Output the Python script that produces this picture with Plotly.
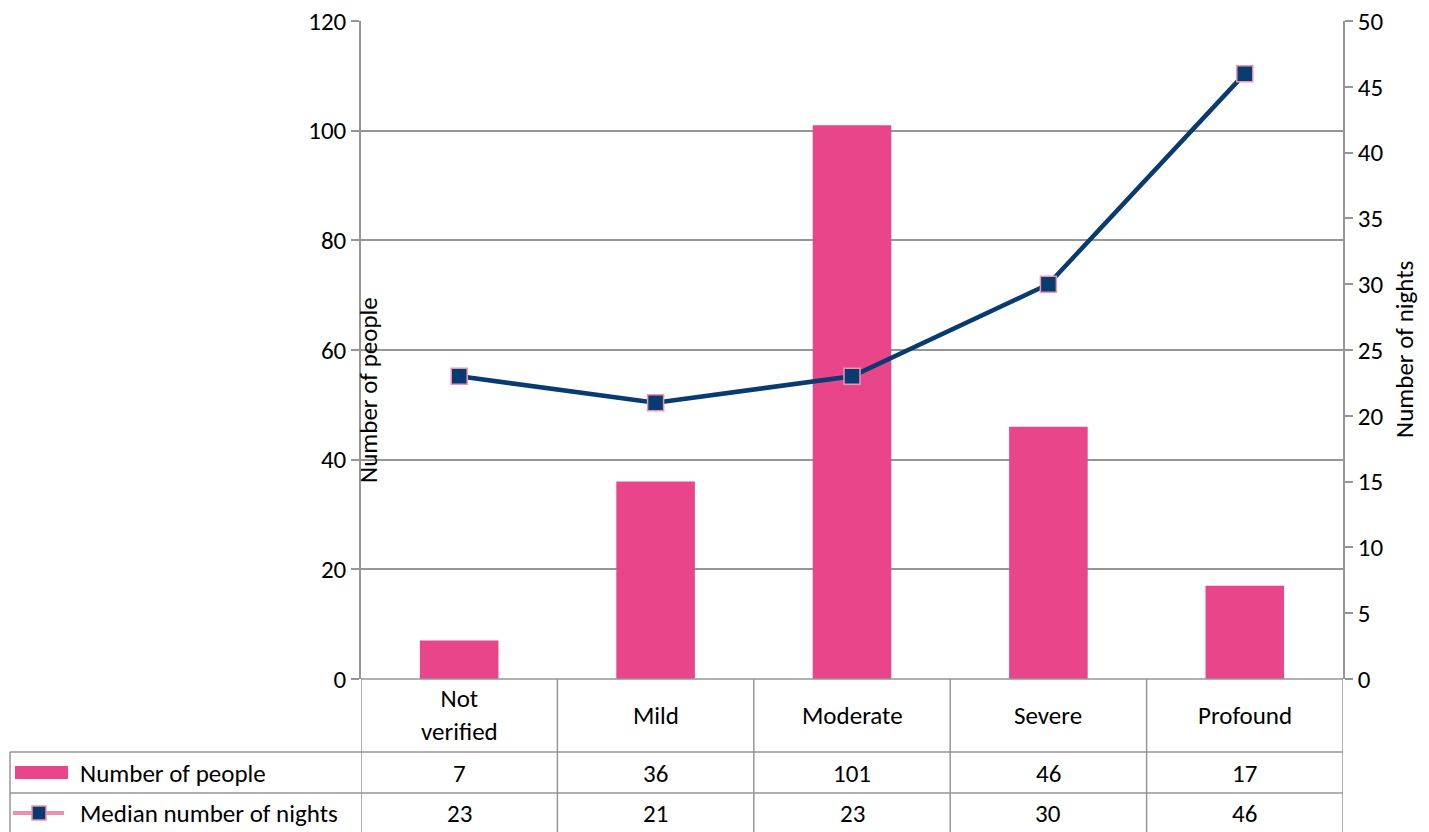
import plotly.graph_objects as go

categories = ["Not<br>verified", "Mild", "Moderate", "Severe", "Profound"]
people = [7, 36, 101, 46, 17]
nights = [23, 21, 23, 30, 46]
series_names = ["Number of people", "Median number of nights"]
left_ticks = [0, 20, 40, 60, 80, 100, 120]
right_ticks = [0, 5, 10, 15, 20, 25, 30, 35, 40, 45, 50]

W, H = 1429, 832
L, R, T, B = 361, 1343, 21, 679
FONT = "Carlito, Lato, Liberation Sans, sans-serif"
FS = 25
PINK = "#E8458A"
NAVY = "#083B6F"
GRID = "#969696"

xi = list(range(len(categories)))

fig = go.Figure()
fig.add_trace(go.Bar(x=xi, y=people, marker=dict(color=PINK, line=dict(width=0)),
                     width=0.4, name=series_names[0], showlegend=False))
fig.add_trace(go.Scatter(x=xi, y=nights, yaxis="y2", mode="lines+markers",
                         line=dict(color=NAVY, width=4.5),
                         marker=dict(symbol="square", size=16, color=NAVY,
                                     line=dict(color="#F093B5", width=1.5)),
                         name=series_names[1], showlegend=False))

fig.update_layout(
    width=W, height=H,
    margin=dict(l=L, r=W - R, t=T, b=H - B, autoexpand=False),
    paper_bgcolor="white", plot_bgcolor="white",
    font=dict(family=FONT, size=FS, color="black"),
    xaxis=dict(range=[-0.5, 4.5], showticklabels=False, showgrid=False, automargin=False,
               zeroline=False, showline=False, ticks=""),
    yaxis=dict(range=[0, 120], tickvals=left_ticks, showgrid=True, gridcolor=GRID,
               automargin=False,
               gridwidth=1.5, zeroline=False, showline=True, linecolor=GRID, linewidth=1.5,
               ticks="outside", ticklen=8, tickcolor=GRID, tickwidth=1.5,
               tickfont=dict(size=FS, family=FONT)),
    yaxis2=dict(range=[0, 50], tickvals=right_ticks, overlaying="y", side="right",
                automargin=False,
                showgrid=False, zeroline=False, showline=True, linecolor=GRID, linewidth=1.5,
                ticks="outside", ticklen=8, tickcolor=GRID, tickwidth=1.5,
                tickfont=dict(size=FS, family=FONT)),
)

pw = R - L
ph = B - T

def px_to_paper_x(px):
    return (px - L) / pw

def py_to_paper_y(py):
    return (B - py) / ph

shapes = []
line = dict(color=GRID, width=1.5)
shapes.append(dict(type="line", xref="paper", yref="paper", x0=px_to_paper_x(L), x1=px_to_paper_x(R),
                   y0=py_to_paper_y(679), y1=py_to_paper_y(679), line=line))
for yy in [752, 793]:
    shapes.append(dict(type="line", xref="paper", yref="paper", x0=px_to_paper_x(10), x1=px_to_paper_x(R),
                       y0=py_to_paper_y(yy), y1=py_to_paper_y(yy), line=line))
for k in range(len(categories) + 1):
    shapes.append(dict(type="line", xref="x", yref="paper", x0=k - 0.5, x1=k - 0.5,
                       y0=py_to_paper_y(679), y1=py_to_paper_y(840), line=line))
shapes.append(dict(type="line", xref="paper", yref="paper", x0=px_to_paper_x(10), x1=px_to_paper_x(10),
                   y0=py_to_paper_y(752), y1=py_to_paper_y(840), line=line))
# legend keys
shapes.append(dict(type="rect", xref="paper", yref="paper", x0=px_to_paper_x(15), x1=px_to_paper_x(68),
                   y0=py_to_paper_y(779), y1=py_to_paper_y(766), fillcolor=PINK, line=dict(width=0)))
shapes.append(dict(type="line", xref="paper", yref="paper", x0=px_to_paper_x(13), x1=px_to_paper_x(64),
                   y0=py_to_paper_y(813), y1=py_to_paper_y(813), line=dict(color="#EE8FB0", width=4)))
shapes.append(dict(type="rect", xref="paper", yref="paper", x0=px_to_paper_x(32), x1=px_to_paper_x(46),
                   y0=py_to_paper_y(820), y1=py_to_paper_y(806), fillcolor=NAVY,
                   line=dict(color="#EE8FB0", width=1.5)))

def ann(**kw):
    d = dict(showarrow=False, xanchor="center", yanchor="middle",
             font=dict(size=FS, family=FONT, color="black"))
    d.update(kw)
    return d

annotations = []
for k, c in enumerate(categories):
    annotations.append(ann(x=k, xref="x", y=py_to_paper_y(715), yref="paper", text=c))
    annotations.append(ann(x=k, xref="x", y=py_to_paper_y(773), yref="paper", text=str(people[k])))
    annotations.append(ann(x=k, xref="x", y=py_to_paper_y(813), yref="paper", text=str(nights[k])))
annotations.append(ann(x=px_to_paper_x(78), xref="paper", y=py_to_paper_y(773), yref="paper",
                       text=series_names[0], xanchor="left"))
annotations.append(ann(x=px_to_paper_x(78), xref="paper", y=py_to_paper_y(813), yref="paper",
                       text=series_names[1], xanchor="left"))
annotations.append(ann(x=px_to_paper_x(368), xref="paper", y=py_to_paper_y(390), yref="paper",
                       text="Number of people", textangle=-90))
annotations.append(ann(x=px_to_paper_x(1404), xref="paper", y=py_to_paper_y(350), yref="paper",
                       text="Number of nights", textangle=-90))

fig.update_layout(shapes=shapes, annotations=annotations)
fig.write_html("out.html")
